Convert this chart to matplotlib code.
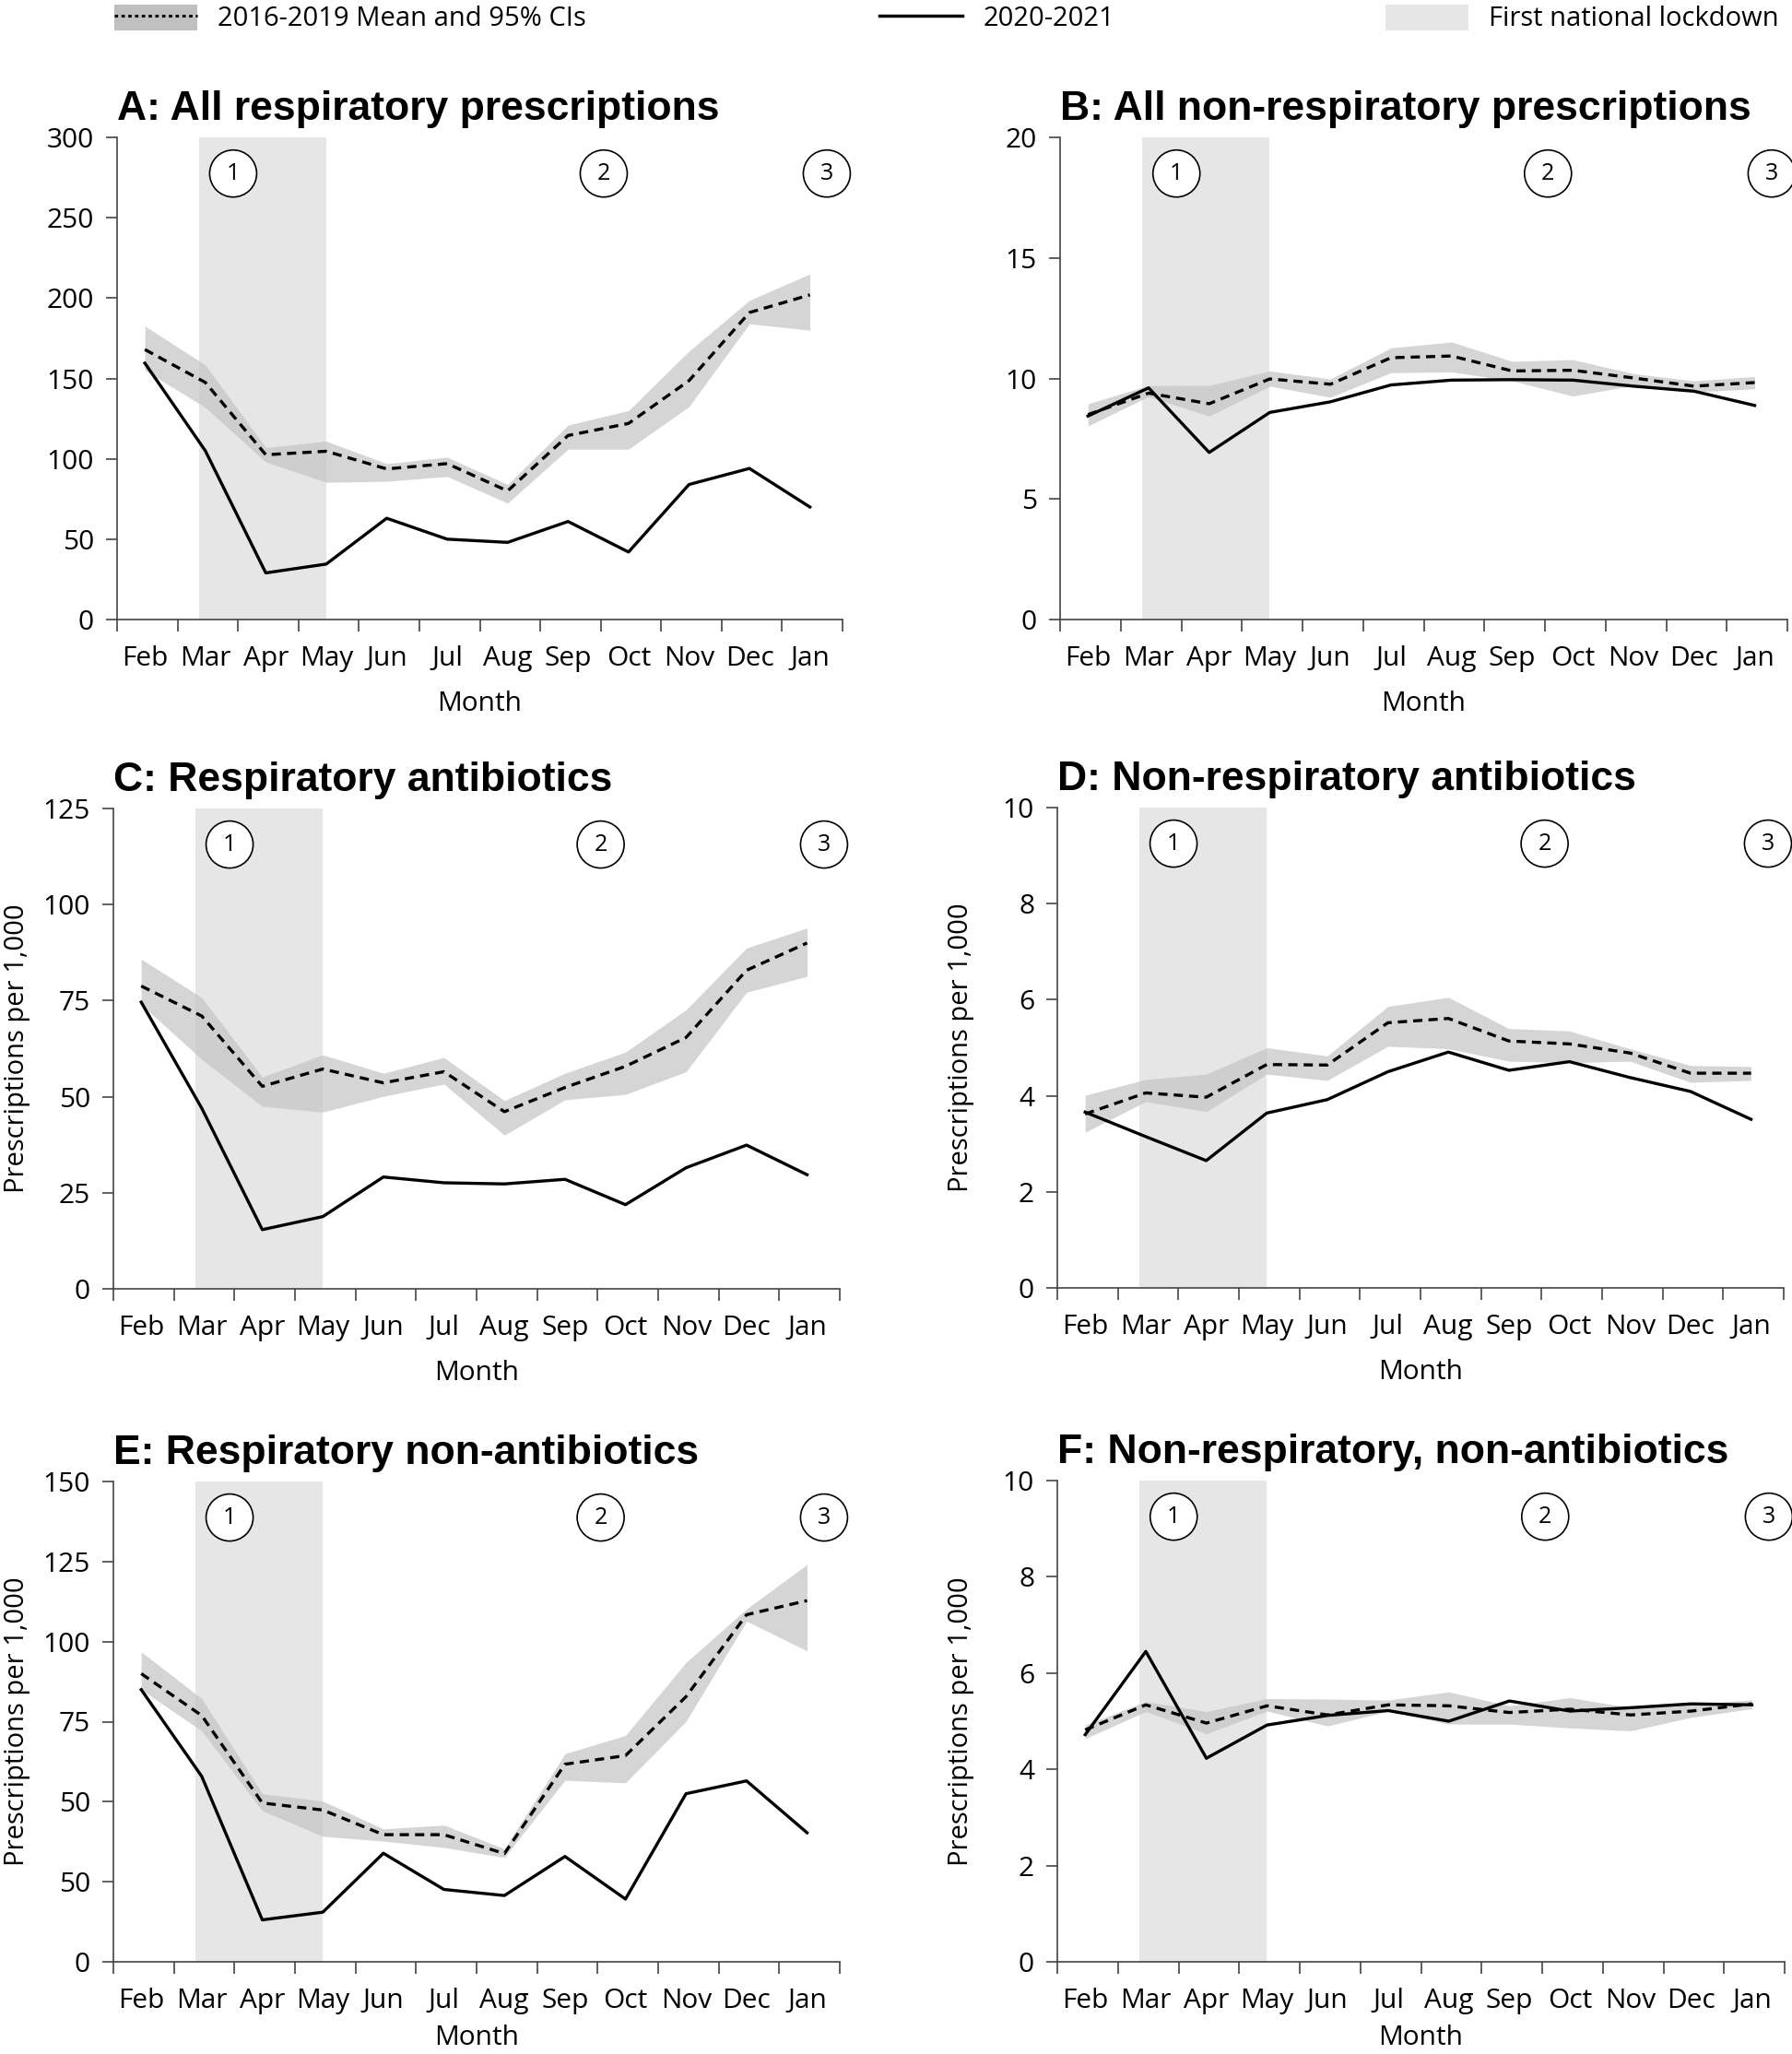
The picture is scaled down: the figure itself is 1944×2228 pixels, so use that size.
import numpy as np
import matplotlib
matplotlib.use("Agg")
from matplotlib import pyplot as plt
from matplotlib.patches import Patch
from matplotlib.lines import Line2D
from matplotlib.transforms import blended_transform_factory

plt.rcParams['font.family'] = ['Open Sans', 'DejaVu Sans']

months = ['Feb', 'Mar', 'Apr', 'May', 'Jun', 'Jul', 'Aug', 'Sep', 'Oct', 'Nov', 'Dec', 'Jan']

## Panel data
#
a_cur = [159.5, 105, 29, 34.5, 63, 50, 48, 61, 42, 84, 94, 70]
a_mean = [168, 147.5, 102.5, 104.7, 93.7, 97, 80, 114.5, 122, 148.6, 191, 202]
a_hi = [182.6, 158.4, 107, 111, 97, 101, 84, 121, 130, 167, 198.6, 215]
a_lo = [155, 132, 98, 85.4, 86, 89, 72.4, 106, 106, 132.5, 184, 180]

b_cur = [8.44, 9.61, 6.93, 8.59, 9.03, 9.73, 9.93, 9.95, 9.93, 9.68, 9.47, 8.88]
b_mean = [8.5, 9.39, 8.95, 9.98, 9.76, 10.86, 10.93, 10.31, 10.34, 10.02, 9.68, 9.83]
b_hi = [8.95, 9.71, 9.71, 10.31, 9.98, 11.27, 11.51, 10.71, 10.78, 10.2, 9.9, 10.08]
b_lo = [8.03, 9.25, 8.44, 9.68, 9.22, 10.24, 10.27, 9.9, 9.27, 9.71, 9.44, 9.57]

c_cur = [74.6, 47, 15.4, 18.8, 29.1, 27.6, 27.3, 28.5, 21.9, 31.5, 37.4, 29.7]
c_mean = [78.8, 71, 52.7, 57.2, 53.6, 56.5, 46.1, 52.4, 57.9, 65.4, 82.9, 90]
c_hi = [85.8, 75.8, 55.1, 60.9, 56.1, 60.2, 49, 56.1, 61.6, 72.6, 88.7, 93.9]
c_lo = [74, 59.7, 47.5, 46, 50.1, 53.3, 40, 49.2, 50.6, 56.5, 77.2, 81.3]

d_cur = [3.66, 3.15, 2.65, 3.64, 3.92, 4.5, 4.91, 4.53, 4.71, 4.38, 4.09, 3.51]
d_mean = [3.62, 4.06, 3.97, 4.65, 4.64, 5.52, 5.61, 5.14, 5.08, 4.89, 4.47, 4.47]
d_hi = [4.01, 4.34, 4.45, 5.0, 4.83, 5.86, 6.05, 5.4, 5.35, 4.98, 4.63, 4.61]
d_lo = [3.24, 3.88, 3.67, 4.45, 4.32, 5.03, 4.98, 4.72, 4.69, 4.72, 4.28, 4.32]

e_cur = [85, 57.9, 13.1, 15.5, 33.9, 22.6, 20.7, 32.9, 19.6, 52.5, 56.5, 40.3]
e_mean = [90, 76.9, 49.6, 47.4, 39.7, 39.7, 33.8, 61.7, 64.4, 82.8, 108.4, 112.8]
e_hi = [96.8, 82.2, 52.5, 50.2, 41.5, 42.7, 35.3, 65, 70.7, 93.5, 110.2, 124.1]
e_lo = [85, 72.1, 47.2, 39.2, 37.7, 35.7, 32.6, 56.7, 55.9, 75.1, 106.4, 97.1]

f_cur = [4.72, 6.45, 4.23, 4.92, 5.12, 5.22, 5.0, 5.42, 5.21, 5.28, 5.36, 5.34]
f_mean = [4.82, 5.34, 4.96, 5.32, 5.13, 5.34, 5.32, 5.18, 5.25, 5.13, 5.21, 5.36]
f_hi = [4.92, 5.41, 5.2, 5.47, 5.46, 5.44, 5.61, 5.32, 5.49, 5.28, 5.36, 5.44]
f_lo = [4.64, 5.2, 4.74, 5.21, 4.9, 5.21, 4.94, 4.94, 4.86, 4.8, 5.08, 5.26]

panels = [
    ('A: All respiratory prescriptions', a_cur, a_mean, a_lo, a_hi, 300, 50, None, False),
    ('B: All non-respiratory prescriptions', b_cur, b_mean, b_lo, b_hi, 20, 5, None, False),
    ('C: Respiratory antibiotics', c_cur, c_mean, c_lo, c_hi, 125, 25, None, True),
    ('D: Non-respiratory antibiotics', d_cur, d_mean, d_lo, d_hi, 10, 2, None, True),
    ('E: Respiratory non-antibiotics', e_cur, e_mean, e_lo, e_hi, 150, 25,
     ['0', '50', '50', '75', '100', '125', '150'], True),
    ('F: Non-respiratory, non-antibiotics', f_cur, f_mean, f_lo, f_hi, 10, 2, None, True),
]

# axes boxes in pixels: left, right, top, bottom
W, H = 1944, 2228
boxes = [(127, 914, 149, 672), (1150, 1939, 149, 672),
         (123, 911, 877, 1398), (1147, 1935, 876, 1397),
         (123, 911, 1607, 2128), (1147, 1936, 1606, 2128)]

lockdown = (1.35, 3.46)
circle_x = [1.92, 8.05, 11.74]
x = np.arange(12) + 0.46

SPINE = '#444444'
BAND = '#c4c4c4'
LOCK = '#e6e6e6'

fig = plt.figure(figsize=(W / 100, H / 100), dpi=100)

for k, ((title, cur, mean, lo, hi, ymax, ystep, ylabels, ylab), (l, r, t, b)) in enumerate(zip(panels, boxes)):
    ax = fig.add_axes([l / W, 1 - b / H, (r - l) / W, (b - t) / H])
    ax.axvspan(lockdown[0], lockdown[1], color=LOCK, lw=0, zorder=0)
    ax.fill_between(x, lo, hi, color=BAND, alpha=0.7, lw=0, zorder=1)
    ax.plot(x, mean, color='black', lw=2.4, dashes=(3, 2), zorder=3)
    ax.plot(x, cur, color='black', lw=2.4, zorder=4)

    ax.set_xlim(0, 12)
    ax.set_ylim(0, ymax)
    yt = np.arange(0, ymax + ystep / 2, ystep)
    ax.set_yticks(yt)
    if ylabels is not None:
        ax.set_yticklabels(ylabels)
    ax.set_xticks(np.arange(13))
    ax.set_xticklabels([])
    ax.set_xticks(x, labels=months, minor=True)
    ax.tick_params(axis='x', which='minor', length=0, pad=20, labelsize=21.5)
    ax.tick_params(axis='x', which='major', length=9, width=1.2, color=SPINE)
    ax.tick_params(axis='y', length=9, width=1.2, color=SPINE, pad=9, labelsize=21.5)

    for s in ['top', 'right']:
        ax.spines[s].set_visible(False)
    for s in ['left', 'bottom']:
        ax.spines[s].set_color(SPINE)
        ax.spines[s].set_linewidth(1.2)

    ax.set_title(title, loc='left', fontsize=32, fontweight='bold',
                 family='Liberation Sans', pad=14)
    ax.set_xlabel('Month', fontsize=21.5)
    # bottom row sits right at the figure edge
    ax.xaxis.set_label_coords(0.5, -0.13 if k >= 4 else -0.148)
    if ylab:
        ax.set_ylabel('Prescriptions per 1,000', fontsize=21)
        ax.yaxis.set_label_coords(-0.114, 0.5)

    tr = blended_transform_factory(ax.transData, ax.transAxes)
    for i, cx in enumerate(circle_x):
        ax.text(cx, 0.925, str(i + 1), transform=tr, ha='center', va='center',
                fontsize=18, clip_on=False, zorder=5,
                bbox=dict(boxstyle='circle,pad=0.52', fc='white', ec='black', lw=1.2))

## Legend along the top
#
h_mean = (Patch(facecolor='#c0c0c0', edgecolor='none'),
          Line2D([], [], color='black', lw=2.2, dashes=(1.2, 1.2)))
h_cur = Line2D([], [], color='black', lw=2.5)
h_lock = Patch(facecolor=LOCK, edgecolor='none')
entries = [(h_mean, '2016-2019 Mean and 95% CIs', 124),
           (h_cur, '2020-2021', 954),
           (h_lock, 'First national lockdown', 1503)]
for h, txt, px in entries:
    fig.legend([h], [txt], loc='center left', bbox_to_anchor=(px / W, 1 - 20 / H),
               frameon=False, fontsize=21, borderpad=0, borderaxespad=0,
               handlelength=3.1, handleheight=1.1, handletextpad=0.75)

fig.savefig('out.png', dpi=100)
